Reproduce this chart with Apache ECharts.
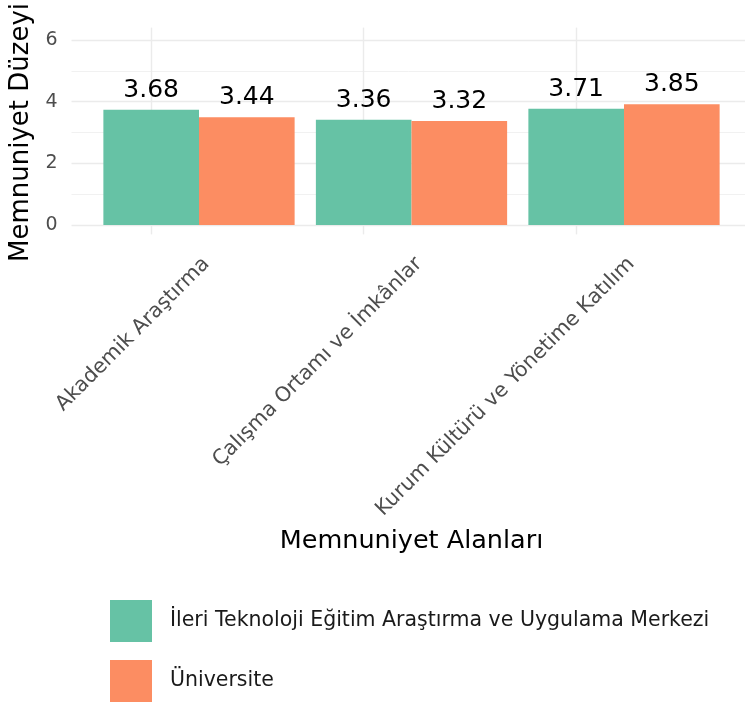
<!DOCTYPE html>
<html>
<head>
<meta charset="utf-8">
<script src="https://cdn.jsdelivr.net/npm/echarts@6/dist/echarts.min.js"></script>
<style>
  html, body { margin: 0; padding: 0; background: #fff; }
  #chart { width: 745px; height: 711px; }
</style>
</head>
<body>
<div id="chart"></div>
<script>
var categories = ['Akademik Araştırma', 'Çalışma Ortamı ve İmkânlar', 'Kurum Kültürü ve Yönetime Katılım'];
var seriesNames = ['İleri Teknoloji Eğitim Araştırma ve Uygulama Merkezi', 'Üniversite'];
var merkezValues = [3.68, 3.36, 3.71];
var universiteValues = [3.44, 3.32, 3.85];
var yTicks = [0, 2, 4, 6];

var FONT = 'DejaVu Sans';
var gridColor = '#EBEBEB';

// panel: x 71.5..751.5, y 27.6..234.4 (0..6 with 5% padding)
var option = {
  animation: false,
  backgroundColor: '#fff',
  textStyle: { fontFamily: FONT },
  grid: [
    // bars
    { left: 92.75, right: 14.75, top: 27.6, bottom: 476.6, containLabel: false },
    // background y grid
    { left: 71.5, right: -6.5, top: 37, bottom: 486, containLabel: false }
  ],
  legend: {
    orient: 'vertical',
    left: 110,
    top: 600,
    padding: 0,
    itemWidth: 42,
    itemHeight: 42,
    itemGap: 18,
    icon: 'rect',
    data: seriesNames,
    textStyle: { fontFamily: FONT, fontSize: 20.5, color: '#1a1a1a', padding: [0, 0, 0, 13] }
  },
  xAxis: [
    {
      type: 'category',
      gridIndex: 0,
      data: categories,
      axisLine: { show: false },
      axisTick: { show: false },
      splitLine: { show: false },
      axisLabel: {
        rotate: 45,
        margin: 19,
        interval: 0,
        verticalAlign: 'top',
        fontFamily: FONT,
        fontSize: 20.5,
        color: '#4D4D4D'
      },
      name: 'Memnuniyet Alanları',
      nameLocation: 'middle',
      nameGap: 294,
      nameTextStyle: { fontFamily: FONT, fontSize: 25.5, color: '#000' }
    },
    {
      type: 'value',
      gridIndex: 1,
      min: 0,
      max: 1,
      show: false
    }
  ],
  yAxis: [
    {
      type: 'value',
      gridIndex: 0,
      min: -0.3,
      max: 6.3,
      show: false
    },
    {
      type: 'value',
      gridIndex: 1,
      min: yTicks[0],
      max: yTicks[yTicks.length - 1],
      interval: 2,
      axisLine: { show: false },
      axisTick: { show: false },
      minorTick: { show: false, splitNumber: 2 },
      splitLine: { show: true, lineStyle: { color: gridColor, width: 1.4 } },
      minorSplitLine: { show: true, lineStyle: { color: gridColor, width: 0.7 } },
      axisLabel: { margin: 14, fontFamily: FONT, fontSize: 19, color: '#4D4D4D' },
      name: 'Memnuniyet Düzeyi',
      nameLocation: 'middle',
      nameRotate: 90,
      nameGap: 37,
      nameTextStyle: { fontFamily: FONT, fontSize: 26, color: '#000' }
    }
  ],
  series: [
    {
      name: seriesNames[0],
      type: 'bar',
      xAxisIndex: 0,
      yAxisIndex: 0,
      data: merkezValues,
      barWidth: '45%',
      barGap: '0%',
      itemStyle: { color: '#66C2A5' },
      label: {
        show: true,
        position: 'top',
        distance: 7,
        fontFamily: FONT,
        fontSize: 25,
        color: '#000'
      },
      markLine: {
        silent: true,
        z: 1,
        symbol: ['none', 'none'],
        label: { show: false },
        lineStyle: { color: gridColor, width: 1.4, type: 'solid' },
        data: categories.map(function (c) { return { xAxis: c }; })
      }
    },
    {
      name: seriesNames[1],
      type: 'bar',
      xAxisIndex: 0,
      yAxisIndex: 0,
      data: universiteValues,
      barWidth: '45%',
      barGap: '0%',
      itemStyle: { color: '#FC8D62' },
      label: {
        show: true,
        position: 'top',
        distance: 7,
        fontFamily: FONT,
        fontSize: 25,
        color: '#000'
      }
    }
  ]
};

var chart = echarts.init(document.getElementById('chart'));
chart.setOption(option);
window.addEventListener('resize', function () {
  chart.resize();
});
</script>
</body>
</html>
